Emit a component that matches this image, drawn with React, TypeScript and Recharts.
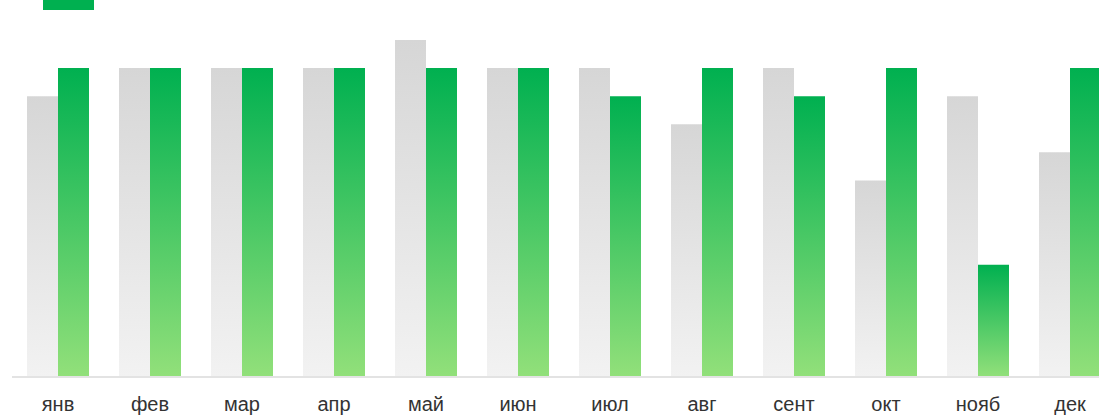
import { Bar, BarChart, XAxis, YAxis } from "recharts";

const MONTHS = ["янв", "фев", "мар", "апр", "май", "июн", "июл", "авг", "сент", "окт", "нояб", "дек"];
const PREV = [10, 11, 11, 11, 12, 11, 11, 9, 11, 7, 10, 8];
const CURR = [11, 11, 11, 11, 11, 11, 10, 11, 10, 11, 4, 11];

const data = MONTHS.map((m, i) => ({ month: m, prev: PREV[i], curr: CURR[i] }));

export default function App() {
  return (
    <div style={{ position: "absolute", left: 0, top: 0, fontFamily: "'Liberation Sans', Arial, sans-serif" }}>
      {/* legend sits mostly above the visible area */}
      <span style={{ position: "absolute", top: -20, left: 43, width: 51, height: 30, background: "#00b050" }} />
      <span
        style={{
          position: "absolute",
          top: -21,
          left: 190,
          fontSize: 20,
          lineHeight: "20px",
          color: "#999",
          whiteSpace: "nowrap",
        }}
      >
        Текущий год
      </span>
      <BarChart
        width={1120}
        height={415}
        data={data}
        margin={{ top: 40, right: 4, left: 12, bottom: 0 }}
        barGap={0}
        barSize={31}
      >
        <defs>
          <linearGradient id="gradGray" x1="0" y1="0" x2="0" y2="1">
            <stop offset="0%" stopColor="#d6d6d6" />
            <stop offset="100%" stopColor="#f2f2f2" />
          </linearGradient>
          <linearGradient id="gradGreen" x1="0" y1="0" x2="0" y2="1">
            <stop offset="0%" stopColor="#00b050" />
            <stop offset="100%" stopColor="#92e07a" />
          </linearGradient>
        </defs>
        <XAxis
          dataKey="month"
          height={38}
          axisLine={{ stroke: "#e3e3e3", strokeWidth: 2 }}
          tickLine={false}
          tickMargin={14}
          tick={{ fill: "#333", fontSize: 20 }}
        />
        <YAxis hide domain={[0, 12]} />
        <Bar dataKey="prev" fill="url(#gradGray)" isAnimationActive={false} />
        <Bar dataKey="curr" fill="url(#gradGreen)" isAnimationActive={false} />
      </BarChart>
    </div>
  );
}
